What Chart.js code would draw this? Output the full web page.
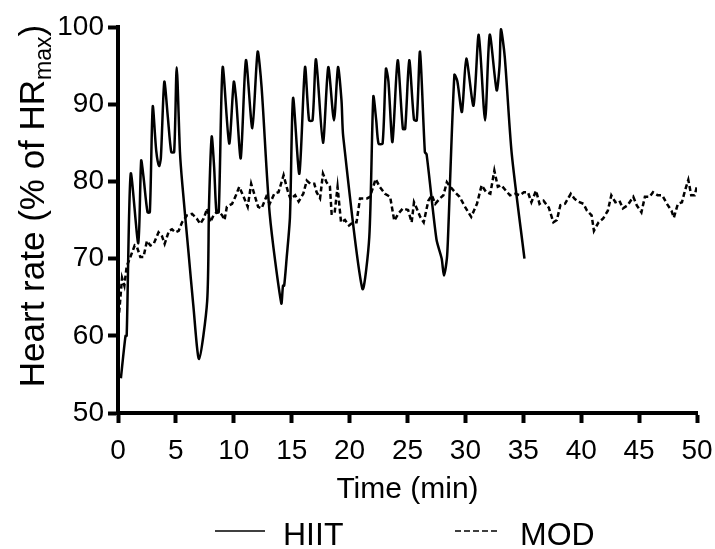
<!DOCTYPE html>
<html>
<head>
<meta charset="utf-8">
<style>
  html, body { margin: 0; padding: 0; background: #fff; }
  #chart { display: block; }
</style>
<script src="https://cdn.jsdelivr.net/npm/chart.js"></script>
</head>
<body>
<canvas id="chart" width="715" height="549"></canvas>
<script>
// values (time in min, heart rate in % of HRmax)
const hiitTime = [0.25, 0.65, 0.75, 1.1, 1.75, 2.0, 2.2, 2.55, 2.75, 3.0, 3.3, 3.55, 3.7, 4.0, 4.3, 4.6, 4.85, 5.07, 5.35, 5.55,
  6.1, 6.5, 7.0, 7.7, 7.86, 8.09, 8.3, 8.5, 8.7, 9.04, 9.6, 10.0, 10.2, 10.6, 11.05, 11.6, 12.06, 12.4, 13.1, 14.1,
  14.25, 14.35, 14.56, 14.85, 15.12, 15.66, 16.15, 16.5, 16.8, 17.1, 17.7, 18.16, 18.65, 19.0, 19.3, 19.45, 21.1, 21.7,
  22.05, 22.3, 22.5, 22.85, 23.14, 23.35, 23.7, 24.15, 24.6, 24.8, 25.15, 25.56, 25.8, 26.08, 26.5, 26.65, 27.5, 27.95,
  28.15, 28.4, 28.5, 29.05, 29.3, 29.7, 30.08, 30.7, 31.15, 31.7, 32.1, 32.7, 32.95, 33.07, 33.4, 34.0, 35.1];
const hiitRate = [54.5, 60, 60, 81, 72, 82.7, 80.6, 76, 76, 89.7, 84, 82, 83, 92.9, 88.4, 83.8, 83.8, 94.8, 83.8, 79.7,
  70.6, 64, 57, 64.5, 76.9, 85.8, 81.9, 76, 76, 94.8, 84.9, 92.9, 90.7, 83, 95.7, 86.9, 96.8, 92.2, 75.8, 64.2,
  66.5, 66.5, 70, 75.4, 90.8, 81, 94.8, 87.9, 87.9, 95.8, 85, 94.8, 87.9, 94.8, 90.5, 85.8, 66.1, 72.8,
  91, 87.9, 84.9, 84.9, 94.6, 93, 85.1, 95.7, 86.8, 86.8, 95.7, 88, 87.9, 96.8, 83.8, 83.5, 72.5, 70,
  67.8, 70, 72.8, 93.8, 93, 89, 95.9, 89.8, 99, 87.9, 99, 91.8, 95, 99.7, 96.1, 83.6, 70];

const modTime = [0.1, 0.35, 0.55, 0.75, 1.07, 1.44, 1.64, 1.93, 2.2, 2.5, 2.8, 3.08, 3.5, 3.8, 4.03, 4.4, 4.66, 4.95, 5.24, 5.53,
  5.96, 6.4, 6.8, 7.1, 7.4, 7.7, 7.97, 8.25, 8.64, 9.0, 9.2, 9.4, 9.85, 10.13, 10.47, 10.85, 11.2, 11.5, 11.8, 12.1,
  12.4, 12.8, 13.1, 13.5, 13.86, 14.3, 14.65, 14.9, 15.3, 15.6, 16.0, 16.3, 16.6, 16.95, 17.15, 17.45, 17.7, 18.0, 18.3, 18.45,
  18.7, 18.96, 19.26, 19.6, 19.95, 20.3, 20.6, 20.9, 21.5, 21.76, 22.25, 22.6, 23.06, 23.5, 23.86, 24.2, 24.6, 25.05, 25.36, 25.56,
  25.8, 26.1, 26.4, 26.8, 27.1, 27.4, 27.8, 28.1, 28.4, 28.7, 29.1, 29.5, 29.97, 30.5, 31.0, 31.4, 31.8, 32.15, 32.5, 32.8,
  33.1, 33.5, 33.85, 34.3, 34.7, 35.05, 35.4, 35.7, 36.1, 36.4, 36.75, 37.2, 37.6, 37.9, 38.2, 38.6, 39.1, 39.4, 39.7, 40.2,
  40.5, 40.9, 41.1, 41.5, 41.9, 42.3, 42.6, 42.95, 43.3, 43.6, 44.0, 44.5, 44.8, 45.2, 45.5, 45.9, 46.2, 46.6, 47.0, 47.4,
  47.8, 48.0, 48.35, 48.7, 48.96, 49.25, 49.5, 49.8, 50.0];
const modRate = [63, 67.5, 66.5, 69, 70.2, 71.7, 71.5, 70.2, 70.2, 72.3, 71.7, 71.9, 73.4, 72.9, 71.9, 73.6, 73.8, 73.4, 73.6, 74.7,
  75.6, 75.8, 75.2, 74.5, 75.2, 76.5, 74.7, 75.6, 76.2, 75.6, 75, 76.7, 77.1, 78, 79.3, 78, 76.7, 79.7, 78.2, 76.7,
  76.5, 78, 77.1, 78.4, 78.6, 80.8, 78.8, 77.7, 78.2, 77.4, 78.4, 80.1, 79.7, 79.7, 78.6, 77.8, 81, 79.9, 79.3, 75.8,
  75.8, 79.3, 74.7, 75, 74.3, 74.7, 74.7, 77.8, 77.8, 78, 80.3, 79.3, 78.4, 78, 74.9, 75.8, 76.5, 76.3, 74.7, 77.3,
  76.5, 75.4, 74.7, 77.5, 78.2, 77.1, 77.8, 78.2, 79.9, 79.3, 78.6, 78, 76.7, 75.4, 77.1, 79.5, 78.6, 78.4, 81.4, 79.3,
  79.5, 78.8, 78.2, 78.4, 78.2, 78.6, 78.6, 77.3, 78.8, 77.1, 77.5, 76.6, 74.7, 75, 76.9, 77.1, 78.4, 77.8, 77.4, 77.1,
  76.2, 75.6, 73.6, 74.7, 75.2, 76.2, 78.2, 77.3, 77.5, 76.5, 76.9, 78, 76.9, 76, 78, 78, 78.6, 78.2, 78.2, 77.1,
  76.2, 75.3, 77.1, 77.3, 78.8, 80.2, 78.2, 78.2, 79.4];

const seriesNames = ['HIIT', 'MOD'];
const xTitle = 'Time (min)';
const yTitleMain = 'Heart rate (% of HR';
const yTitleSub = 'max';

const FONT = "'Liberation Sans', Arial, Helvetica, sans-serif";

const toPoints = (xs, ys) => xs.map((x, i) => ({ x: x, y: ys[i] }));

// y title needs a subscript, so it is drawn by hand
const yTitlePlugin = {
  id: 'yTitle',
  afterDraw(chart) {
    const ctx = chart.ctx;
    ctx.save();
    ctx.translate(44, 206);
    ctx.rotate(-Math.PI / 2);
    ctx.fillStyle = '#000';
    ctx.textBaseline = 'alphabetic';
    ctx.font = '35px ' + FONT;
    const wMain = ctx.measureText(yTitleMain).width;
    const wClose = ctx.measureText(')').width;
    ctx.font = '23px ' + FONT;
    const wSub = ctx.measureText(yTitleSub).width;
    let x = -(wMain + wSub + wClose) / 2;
    ctx.font = '35px ' + FONT;
    ctx.fillText(yTitleMain, x, 0);
    x += wMain;
    ctx.font = '23px ' + FONT;
    ctx.fillText(yTitleSub, x, 7);
    x += wSub;
    ctx.font = '35px ' + FONT;
    ctx.fillText(')', x, 0);
    ctx.restore();
  }
};

// legend is laid out by hand: wide gap between the two items
const legendPlugin = {
  id: 'customLegend',
  afterDraw(chart) {
    const ctx = chart.ctx;
    const items = [
      { ds: chart.data.datasets[0], x0: 215, x1: 265, tx: 283 },
      { ds: chart.data.datasets[1], x0: 455, x1: 500, tx: 520 }
    ];
    const y = 531;
    ctx.save();
    items.forEach(it => {
      ctx.strokeStyle = it.ds.borderColor;
      ctx.lineWidth = 1.5;
      ctx.setLineDash(it.ds.borderDash ? [6, 3] : []);
      ctx.beginPath();
      ctx.moveTo(it.x0, y);
      ctx.lineTo(it.x1, y);
      ctx.stroke();
      ctx.setLineDash([]);
      ctx.fillStyle = '#000';
      ctx.font = '32px ' + FONT;
      ctx.textBaseline = 'middle';
      ctx.fillText(it.ds.label, it.tx, y + 5);
    });
    ctx.restore();
  }
};

new Chart(document.getElementById('chart'), {
  type: 'line',
  data: {
    datasets: [
      { label: seriesNames[0], data: toPoints(hiitTime, hiitRate), borderColor: '#000', borderWidth: 2.5, pointRadius: 0, tension: 0.25, fill: false },
      { label: seriesNames[1], data: toPoints(modTime, modRate), borderColor: '#000', borderWidth: 2.5, borderDash: [5, 3], pointRadius: 0, tension: 0, fill: false }
    ]
  },
  options: {
    responsive: false,
    animation: false,
    devicePixelRatio: 1,
    layout: { padding: { left: 0, right: 18, top: 27, bottom: 41 } },
    plugins: { legend: { display: false }, tooltip: { enabled: false } },
    scales: {
      x: {
        type: 'linear', min: 0, max: 50,
        ticks: { stepSize: 5, color: '#000', font: { family: FONT, size: 28 }, padding: 11, maxRotation: 0 },
        grid: { drawOnChartArea: false, drawTicks: true, tickLength: 10, tickWidth: 4, color: '#000' },
        border: { display: true, width: 4, color: '#000' },
        title: { display: true, text: xTitle, color: '#000', font: { family: FONT, size: 30 }, padding: { top: 0, bottom: 0 } },
        afterFit(s) { s.height = 95; s.paddingLeft = 0; s.paddingRight = 0; }
      },
      y: {
        min: 50, max: 100,
        ticks: { stepSize: 10, color: '#000', font: { family: FONT, size: 28 }, padding: 4 },
        grid: { drawOnChartArea: false, drawTicks: true, tickLength: 10, tickWidth: 4, color: '#000' },
        border: { display: true, width: 4, color: '#000' },
        afterFit(s) { s.width = 118; s.paddingTop = 0; s.paddingBottom = 0; }
      }
    }
  },
  plugins: [yTitlePlugin, legendPlugin]
});
</script>
</body>
</html>
